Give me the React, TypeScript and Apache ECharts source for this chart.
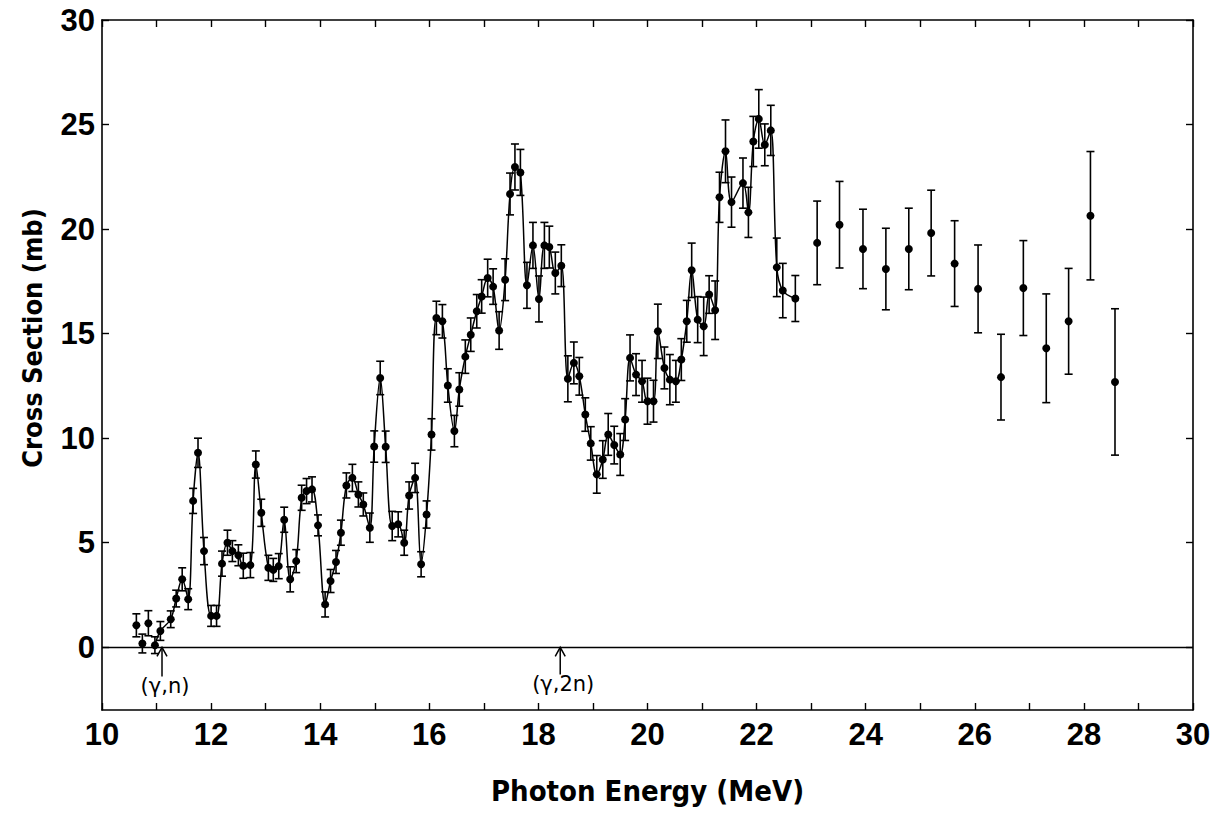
import { useEffect, useRef } from "react";
import * as echarts from "echarts";

// Dense (fine-step) measurements, MeV / mb / ± mb
const energy = [
  10.63, 10.74, 10.85, 10.97, 11.07, 11.26, 11.36, 11.47, 11.58, 11.67,
  11.76, 11.87, 12.0, 12.1, 12.2, 12.3, 12.39, 12.5, 12.59, 12.72,
  12.82, 12.92, 13.05, 13.14, 13.24, 13.34, 13.45, 13.56, 13.66, 13.75,
  13.85, 13.96, 14.09, 14.19, 14.29, 14.38, 14.48, 14.59, 14.7, 14.79,
  14.91, 14.99, 15.1, 15.2, 15.32, 15.43, 15.54, 15.63, 15.74, 15.85,
  15.95, 16.04, 16.13, 16.24, 16.34, 16.46, 16.55, 16.66, 16.76, 16.87,
  16.96, 17.07, 17.17, 17.28, 17.39, 17.48, 17.57, 17.67, 17.79, 17.9,
  18.01, 18.11, 18.2, 18.31, 18.42, 18.54, 18.65, 18.75, 18.86, 18.96,
  19.07, 19.18, 19.28, 19.39, 19.5, 19.59, 19.68, 19.79, 19.9, 20.0,
  20.11, 20.19, 20.31, 20.41, 20.52, 20.62, 20.72, 20.81, 20.92, 21.03,
  21.13, 21.24, 21.32, 21.43, 21.54, 21.75, 21.85, 21.94, 22.04, 22.15,
  22.26, 22.37, 22.48, 22.71,
];
const sigma = [
  1.05, 0.18, 1.15, 0.1, 0.78, 1.34, 2.33, 3.25, 2.3, 7.0,
  9.3, 4.6, 1.5, 1.5, 4.0, 5.0, 4.6, 4.4, 3.9, 3.93,
  8.74, 6.43, 3.8, 3.7, 3.88, 6.1, 3.25, 4.12, 7.15, 7.47,
  7.55, 5.83, 2.05, 3.17, 4.08, 5.48, 7.74, 8.1, 7.31, 6.83,
  5.72, 9.6, 12.88, 9.59, 5.8, 5.88, 5.0, 7.26, 8.1, 3.97,
  6.35, 10.18, 15.75, 15.59, 12.52, 10.34, 12.33, 13.9, 14.95, 16.07,
  16.78, 17.66, 17.25, 15.15, 17.58, 21.68, 22.97, 22.71, 17.31, 19.22,
  16.66, 19.22, 19.14, 17.9, 18.25, 12.84, 13.6, 12.96, 11.13, 9.75,
  8.27, 8.98, 10.18, 9.67, 9.22, 10.89, 13.84, 13.04, 12.72, 11.77,
  11.77, 15.11, 13.36, 12.8, 12.72, 13.76, 15.59, 18.03, 15.67, 15.35,
  16.87, 16.12, 21.52, 23.72, 21.29, 22.2, 20.8, 24.19, 25.27, 24.03,
  24.72, 18.17, 17.06, 16.68,
];
const sigmaErr = [
  0.55, 0.45, 0.6, 0.4, 0.45, 0.4, 0.4, 0.55, 0.5, 0.6,
  0.7, 0.65, 0.5, 0.5, 0.6, 0.6, 0.5, 0.5, 0.6, 0.6,
  0.65, 0.65, 0.6, 0.55, 0.6, 0.6, 0.6, 0.55, 0.6, 0.6,
  0.6, 0.5, 0.6, 0.55, 0.55, 0.6, 0.6, 0.65, 0.6, 0.55,
  0.7, 0.75, 0.8, 0.75, 0.7, 0.6, 0.6, 0.65, 0.7, 0.6,
  0.65, 0.75, 0.8, 0.8, 0.8, 0.75, 0.8, 0.8, 0.8, 0.8,
  0.8, 0.9, 0.85, 0.9, 1.0, 1.0, 1.1, 1.1, 1.1, 1.1,
  1.1, 1.1, 1.0, 1.0, 1.0, 1.1, 1.0, 0.9, 0.8, 0.8,
  0.9, 0.9, 1.0, 0.9, 1.0, 1.0, 1.1, 1.0, 1.0, 1.1,
  1.0, 1.3, 1.0, 1.2, 1.0, 1.0, 1.0, 1.3, 1.1, 1.4,
  0.9, 1.4, 1.2, 1.5, 1.2, 1.2, 1.2, 1.2, 1.4, 1.0,
  1.2, 1.4, 1.3, 1.1,
];
// the fitted curve starts at the (γ,n) threshold point
const curveFirstEnergy = 10.97;

// Coarse-step measurements above 23 MeV
const sparseEnergy = [23.11, 23.52, 23.95, 24.37, 24.79, 25.2, 25.63, 26.06, 26.48, 26.89, 27.31, 27.72, 28.12, 28.57];
const sparseSigma = [19.34, 20.21, 19.05, 18.09, 19.05, 19.81, 18.35, 17.14, 12.92, 17.18, 14.3, 15.59, 20.64, 12.69];
const sparseErr = [2.0, 2.07, 1.9, 1.95, 1.95, 2.05, 2.05, 2.1, 2.05, 2.27, 2.6, 2.53, 3.07, 3.5];

// Threshold annotations
const thresholdEnergy = [11.1, 18.4];
const thresholdTail = [-1.4, -1.3];
const thresholdLabels = ["(γ,n)", "(γ,2n)"];

const xLabelValues = [10, 12, 14, 16, 18, 20, 22, 24, 26, 28, 30];
const yTickValues = [0, 5, 10, 15, 20, 25, 30];

const TICK_FONT = '"Liberation Sans", Arial, sans-serif';
const TITLE_FONT = '"DejaVu Sans Condensed", "DejaVu Sans", sans-serif';

export default function App() {
  const ref = useRef<HTMLDivElement>(null);

  useEffect(() => {
    document.body.style.margin = "0";
    if (!ref.current) return;
    const chart = echarts.init(ref.current, undefined, { renderer: "svg" });

    const dense = energy.map((e, i) => [e, sigma[i], sigmaErr[i]]);
    const sparse = sparseEnergy.map((e, i) => [e, sparseSigma[i], sparseErr[i]]);
    const allPts = dense.concat(sparse);
    const curve = dense.filter((d) => d[0] >= curveFirstEnergy).map((d) => [d[0], d[1]]);
    const annot = thresholdEnergy.map((e, i) => [e, thresholdTail[i], thresholdLabels[i]]);

    const axisLine = { show: true, onZero: false, lineStyle: { color: "#000", width: 1.6 } };
    const tickStyle = { color: "#000", width: 1.4 };

    const option: any = {
      animation: false,
      backgroundColor: "#fff",
      grid: { left: 102, right: 25, top: 20, bottom: 111 },
      xAxis: [
        {
          type: "value",
          min: 10,
          max: 30,
          interval: 1,
          position: "bottom",
          axisLine,
          axisTick: { show: true, inside: true, length: 7, lineStyle: tickStyle },
          axisLabel: {
            customValues: xLabelValues,
            color: "#000",
            fontSize: 31,
            fontWeight: "bold",
            fontFamily: TICK_FONT,
            margin: 9,
          },
          splitLine: { show: false },
          name: "Photon Energy (MeV)",
          nameLocation: "middle",
          nameGap: 66,
          nameTextStyle: { color: "#000", fontSize: 29, fontWeight: "bold", fontFamily: TITLE_FONT },
        },
        {
          type: "value",
          min: 10,
          max: 30,
          interval: 1,
          position: "top",
          axisLine,
          axisTick: { show: true, inside: true, length: 7, lineStyle: tickStyle },
          axisLabel: { show: false },
          splitLine: { show: false },
        },
      ],
      yAxis: [
        {
          type: "value",
          min: -3,
          max: 30,
          position: "left",
          axisLine,
          axisTick: { show: true, inside: true, length: 7, customValues: yTickValues, lineStyle: tickStyle },
          axisLabel: {
            customValues: yTickValues,
            color: "#000",
            fontSize: 31,
            fontWeight: "bold",
            fontFamily: TICK_FONT,
            margin: 7,
          },
          splitLine: { show: false },
        },
        {
          type: "value",
          min: -3,
          max: 30,
          position: "right",
          axisLine,
          axisTick: { show: true, inside: true, length: 7, customValues: yTickValues, lineStyle: tickStyle },
          axisLabel: { show: false },
          splitLine: { show: false },
        },
      ],
      graphic: [
        {
          type: "text",
          x: 32,
          y: 338,
          rotation: Math.PI / 2,
          style: {
            text: "Cross Section (mb)",
            fill: "#000",
            fontSize: 27,
            fontWeight: "bold",
            fontFamily: TITLE_FONT,
            align: "center",
            verticalAlign: "middle",
          },
        },
      ],
      series: [
        {
          type: "line",
          data: curve,
          smooth: 0.35,
          showSymbol: false,
          symbol: "none",
          lineStyle: { color: "#000", width: 1.5 },
          silent: true,
          z: 2,
          markLine: {
            silent: true,
            symbol: ["none", "none"],
            label: { show: false },
            lineStyle: { color: "#000", width: 1.3, type: "solid" },
            data: [{ yAxis: 0 }],
          },
        },
        {
          type: "custom",
          data: allPts,
          encode: { x: 0, y: 1 },
          silent: true,
          z: 3,
          renderItem: (_p: any, api: any) => {
            const x = api.value(0);
            const y = api.value(1);
            const e = api.value(2);
            const top = api.coord([x, y + e]);
            const bot = api.coord([x, y - e]);
            const cw = 4;
            const st = { stroke: "#000", lineWidth: 1.6 };
            return {
              type: "group",
              children: [
                { type: "line", shape: { x1: top[0], y1: top[1], x2: bot[0], y2: bot[1] }, style: st },
                { type: "line", shape: { x1: top[0] - cw, y1: top[1], x2: top[0] + cw, y2: top[1] }, style: st },
                { type: "line", shape: { x1: bot[0] - cw, y1: bot[1], x2: bot[0] + cw, y2: bot[1] }, style: st },
              ],
            };
          },
        },
        {
          type: "scatter",
          data: allPts.map((d) => [d[0], d[1]]),
          symbol: "circle",
          symbolSize: 8,
          itemStyle: { color: "#000", opacity: 1 },
          silent: true,
          z: 4,
        },
        {
          type: "custom",
          data: annot,
          encode: { x: 0, y: 1 },
          silent: true,
          z: 5,
          renderItem: (_p: any, api: any) => {
            const x = api.value(0);
            const tail = api.value(1);
            const label = thresholdLabels[_p.dataIndex];
            const head = api.coord([x, 0]);
            const t = api.coord([x, tail]);
            const st = { stroke: "#000", lineWidth: 1.5, fill: "none" };
            return {
              type: "group",
              children: [
                { type: "line", shape: { x1: t[0], y1: t[1], x2: head[0], y2: head[1] }, style: st },
                {
                  type: "polyline",
                  shape: { points: [[head[0] - 5, head[1] + 9], [head[0], head[1]], [head[0] + 5, head[1] + 9]] },
                  style: st,
                },
                {
                  type: "text",
                  x: t[0] + 3,
                  y: t[1] - 1,
                  style: {
                    text: label,
                    fill: "#000",
                    fontSize: 21,
                    fontFamily: '"DejaVu Sans", sans-serif',
                    align: "center",
                    verticalAlign: "top",
                  },
                },
              ],
            };
          },
        },
      ],
    };

    chart.setOption(option);
    return () => chart.dispose();
  }, []);

  return <div ref={ref} style={{ width: 1218, height: 821 }} />;
}
